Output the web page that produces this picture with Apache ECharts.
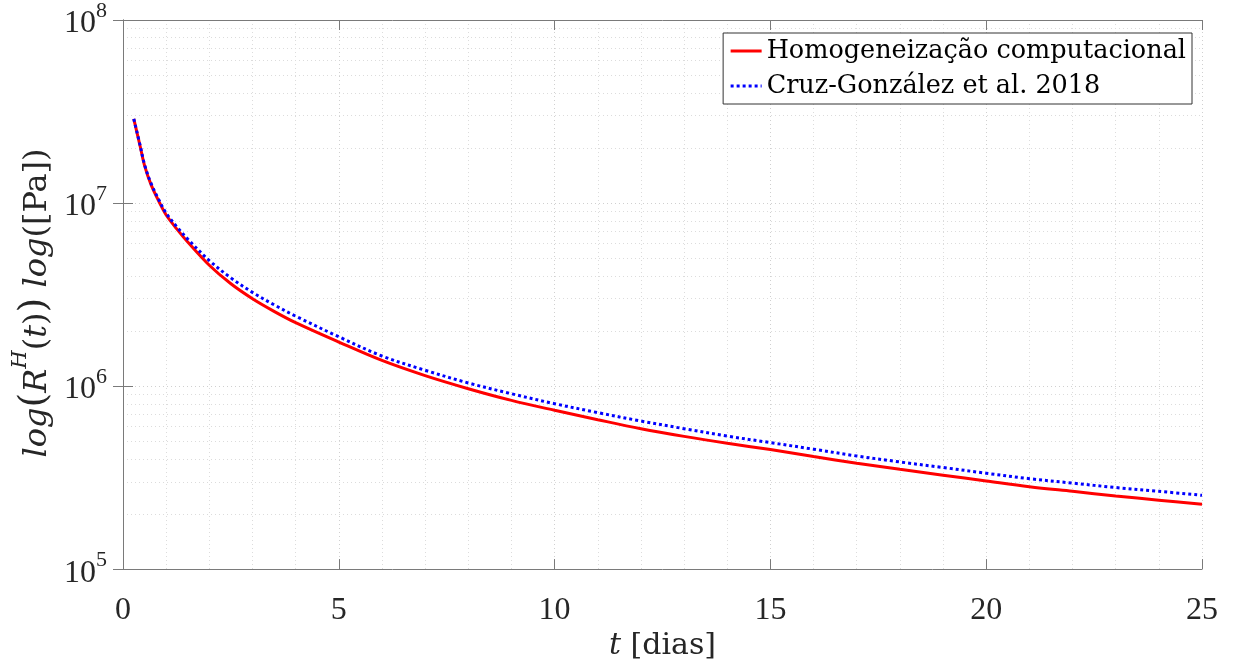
<!DOCTYPE html>
<html>
<head>
<meta charset="utf-8">
<script src="https://cdn.jsdelivr.net/npm/echarts@6/dist/echarts.min.js"></script>
<style>
  html, body { margin: 0; padding: 0; background: #fff; }
  #main { width: 1234px; height: 666px; }
</style>
</head>
<body>
<div id="main"></div>
<script>
// tempo [dias]
const tDias = [0.25, 0.4, 0.5, 0.65, 0.85, 1, 1.25, 1.5, 2, 2.5, 3, 3.5, 4, 5, 6, 7, 8, 9, 10,
  11, 12, 13, 14, 15, 16, 17, 18, 19, 20, 21, 22, 23, 24, 25];
// R^H(t) [Pa]
const homogComp = [2.88e7, 2.03e7, 1.6e7, 1.26e7, 1.0e7, 8.6e6, 7.2e6, 6.12e6, 4.57e6, 3.62e6, 3.0e6, 2.56e6, 2.22e6,
  1.74e6, 1.38e6, 1.14e6, 9.67e5, 8.35e5, 7.37e5, 6.55e5, 5.85e5, 5.31e5, 4.87e5, 4.5e5, 4.12e5, 3.79e5,
  3.51e5, 3.26e5, 3.03e5, 2.82e5, 2.66e5, 2.51e5, 2.38e5, 2.26e5];
const cruzGonzalez = [2.88e7, 2.05e7, 1.62e7, 1.28e7, 1.02e7, 8.8e6, 7.4e6, 6.35e6, 4.85e6, 3.9e6, 3.25e6, 2.78e6, 2.41e6,
  1.86e6, 1.46e6, 1.22e6, 1.04e6, 9.08e5, 8.01e5, 7.16e5, 6.44e5, 5.85e5, 5.33e5, 4.91e5, 4.52e5, 4.15e5,
  3.85e5, 3.59e5, 3.34e5, 3.12e5, 2.95e5, 2.79e5, 2.66e5, 2.53e5];
const seriesNames = ['Homogeneização computacional', 'Cruz-González et al. 2018'];

const FONT = 'DejaVu Serif';
const NUMFONT = 'Liberation Serif';
const TXT = '#262626';
const AX = '#7a7a7a';

const chart = echarts.init(document.getElementById('main'), null, { renderer: 'canvas' });

const pairs = ys => tDias.map((t, i) => [t, ys[i]]);

const tickStyle = { show: true, inside: true, length: 10, lineStyle: { color: AX, width: 1 } };
const gridMajor = { show: true, lineStyle: { color: '#d0d0d0', type: [1, 3], width: 1 } };
const gridMinor = { show: true, lineStyle: { color: '#dcdcdc', type: [1, 3], width: 1 } };

chart.setOption({
  animation: false,
  backgroundColor: '#fff',
  textStyle: { fontFamily: FONT, color: TXT },
  grid: { left: 123, right: 32, top: 20, bottom: 96 },
  legend: {
    orient: 'vertical',
    right: 42, top: 33,
    backgroundColor: '#fff',
    borderColor: '#333', borderWidth: 1,
    padding: [5, 6, 5, 6],
    itemWidth: 31, itemHeight: 14, itemGap: 9,
    itemStyle: { opacity: 0 },
    lineStyle: { width: 3 },
    textStyle: { fontFamily: FONT, fontSize: 25.5, color: '#000' },
    data: seriesNames
  },
  xAxis: [{
    type: 'value', min: 0, max: 25, interval: 5,
    axisLine: { show: true, lineStyle: { color: AX } },
    axisTick: tickStyle,
    minorTick: { show: false, splitNumber: 5 },
    splitLine: gridMajor,
    minorSplitLine: gridMinor,
    axisLabel: { fontFamily: NUMFONT, fontSize: 32, color: TXT, margin: 25 },
    name: '{i|t} [dias]',
    nameLocation: 'middle', nameGap: 52,
    nameTextStyle: {
      fontFamily: FONT, fontSize: 30, color: TXT,
      rich: { i: { fontFamily: FONT, fontStyle: 'italic', fontSize: 30, color: TXT } }
    }
  }, {
    type: 'value', min: 0, max: 25, interval: 5, position: 'top',
    axisLine: { show: true, lineStyle: { color: AX } },
    axisTick: tickStyle, axisLabel: { show: false }, splitLine: { show: false }
  }],
  yAxis: [{
    type: 'log', logBase: 10, min: 1e5, max: 1e8,
    axisLine: { show: true, lineStyle: { color: AX } },
    axisTick: tickStyle,
    minorTick: { show: false, splitNumber: 9 },
    splitLine: gridMajor,
    minorSplitLine: gridMinor,
    axisLabel: {
      margin: 16,
      formatter: v => '{b|10}{s|' + Math.round(Math.log10(v)) + '}',
      rich: {
        b: { fontFamily: NUMFONT, fontSize: 32, color: TXT, verticalAlign: 'bottom', lineHeight: 40 },
        s: { fontFamily: NUMFONT, fontSize: 22, color: TXT, verticalAlign: 'top', lineHeight: 40 }
      }
    }
  }, {
    type: 'log', logBase: 10, min: 1e5, max: 1e8, position: 'right',
    axisLine: { show: true, lineStyle: { color: AX } },
    axisTick: tickStyle, axisLabel: { show: false }, splitLine: { show: false }
  }],
  graphic: [{
    type: 'text',
    x: 32, y: 303,
    rotation: Math.PI / 2,
    style: {
      text: '{i|log}{p|(}{i|R}{sup|H}{n|(}{i|t}{n|)}{p|)}{n| }{i|log}{n|([Pa])}',
      align: 'center', verticalAlign: 'middle',
      rich: {
        i: { fontFamily: FONT, fontStyle: 'italic', fontSize: 32, fill: TXT, verticalAlign: 'bottom', lineHeight: 44 },
        n: { fontFamily: FONT, fontSize: 32, fill: TXT, verticalAlign: 'bottom', lineHeight: 44 },
        p: { fontFamily: FONT, fontSize: 38, fontWeight: 'lighter', fill: TXT, verticalAlign: 'bottom', lineHeight: 44 },
        sup: { fontFamily: FONT, fontStyle: 'italic', fontSize: 21, fill: TXT, verticalAlign: 'top', lineHeight: 44 }
      }
    }
  }],
  series: [{
    name: seriesNames[0],
    type: 'line', smooth: 0.35, symbol: 'none',
    data: pairs(homogComp),
    lineStyle: { color: '#ff0000', width: 3 },
    itemStyle: { color: '#ff0000' }
  }, {
    name: seriesNames[1],
    type: 'line', smooth: 0.35, symbol: 'none',
    data: pairs(cruzGonzalez),
    lineStyle: { color: '#0000ff', width: 3, type: [3, 3] },
    itemStyle: { color: '#0000ff' }
  }]
});
</script>
</body>
</html>
